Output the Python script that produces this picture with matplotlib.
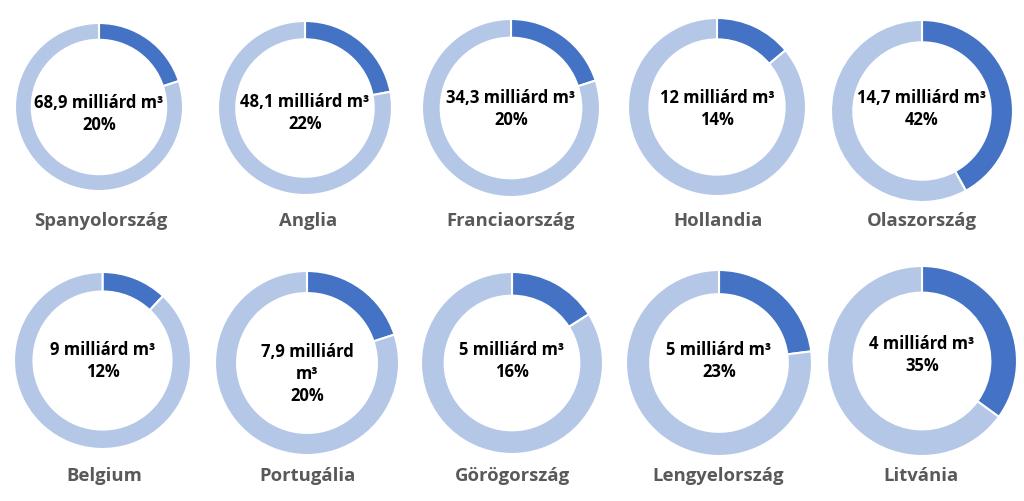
import matplotlib
matplotlib.use("Agg")
import matplotlib.pyplot as plt

# ---- data ----
countries = ["Spanyolország", "Anglia", "Franciaország", "Hollandia", "Olaszország",
             "Belgium", "Portugália", "Görögország", "Lengyelország", "Litvánia"]
volumes = ["68,9", "48,1", "34,3", "12", "14,7", "9", "7,9", "5", "5", "4"]
shares = [20, 22, 20, 14, 42, 12, 20, 16, 23, 35]

# ---- layout (pixel coords, y from top) ----
W, H = 1024, 502
cx = [99, 305, 511, 717, 922, 102.5, 307, 512, 719, 922]
cy = [108, 109, 109, 108, 112, 361.5, 364, 364, 364, 362]
rad = [84, 87, 89, 89, 91, 88.5, 92, 91, 93, 95]
ring = [0.20, 0.21, 0.21, 0.24, 0.245, 0.22, 0.24, 0.26, 0.26, 0.28]
text_y = [103, 102, 98, 98, 98, 350, 352, 350, 350, 344]
label_x = [101, 308, 511, 718, 922, 104, 308, 512, 718, 921]
label_y = [221, 221, 221, 221, 221, 476, 476, 476, 476, 476]

DARK = "#4472C4"
LIGHT = "#B4C7E7"
GREY = "#595959"
FONT = "Open Sans"

fig = plt.figure(figsize=(W / 100, H / 100), dpi=100)
ax = fig.add_axes([0, 0, 1, 1])

for i, name in enumerate(countries):
    p = shares[i]
    r = rad[i]
    ax.pie([p, 100 - p], colors=[DARK, LIGHT], startangle=90, counterclock=False,
           center=(cx[i], H - cy[i]), radius=r, frame=True,
           wedgeprops=dict(width=r * ring[i], edgecolor="white", linewidth=1.5))
    if name == "Portugália":
        lines = [f"{volumes[i]} milliárd", "m³", f"{p}%"]
    else:
        lines = [f"{volumes[i]} milliárd m³", f"{p}%"]
    for k, ln in enumerate(lines):
        ax.text(cx[i], H - (text_y[i] + 22 * k), ln, ha="center", va="center",
                fontsize=12, fontweight="bold", family=FONT, color="black")
    ax.text(label_x[i], H - label_y[i], name, ha="center", va="center",
            fontsize=13.3, fontweight="bold", family=FONT, color=GREY)

ax.set_xlim(0, W)
ax.set_ylim(0, H)
ax.set_aspect("equal")
ax.axis("off")
fig.savefig("out.png", dpi=100)
